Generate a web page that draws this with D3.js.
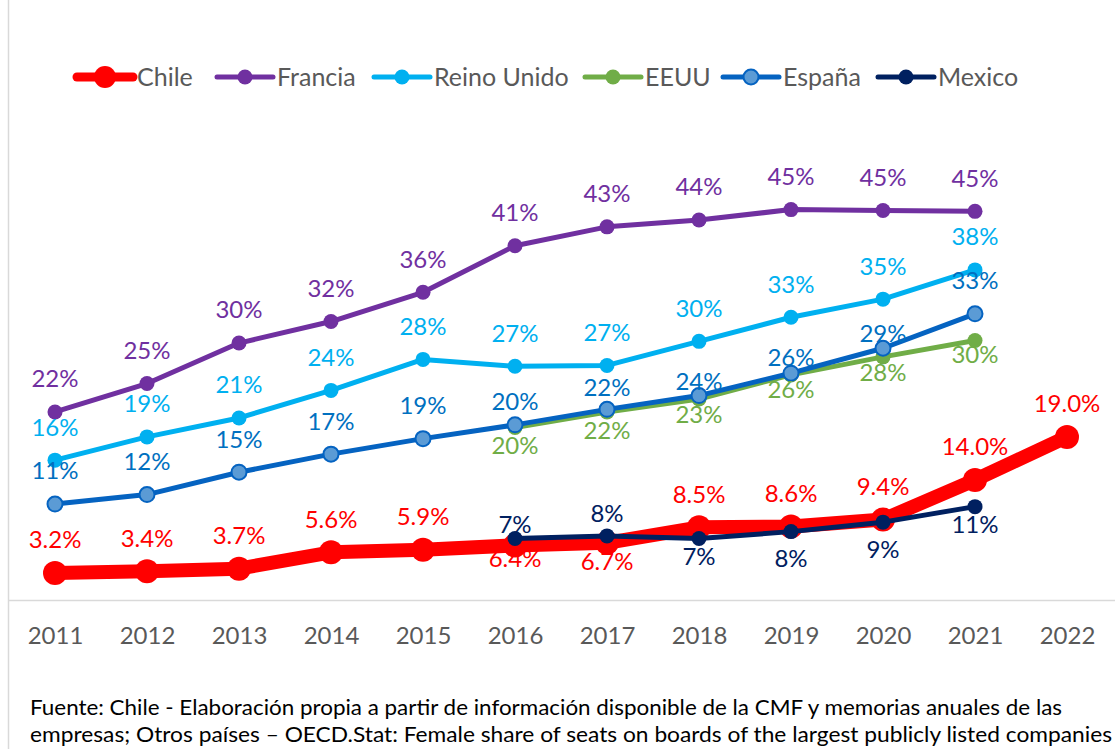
<!DOCTYPE html>
<html>
<head>
<meta charset="utf-8">
<script src="https://cdn.jsdelivr.net/npm/d3@7"></script>
<style>
  html, body { margin: 0; padding: 0; background: #fff; }
  svg { display: block; font-family: Lato, "Open Sans", sans-serif; }
</style>
</head>
<body>
<div id="chart"></div>
<script>
// years on the x axis
const years = ["2011", "2012", "2013", "2014", "2015", "2016", "2017", "2018", "2019", "2020", "2021", "2022"];

// % of board seats held by women (null = no data)
const chile      = [3.2, 3.4, 3.7, 5.6, 5.9, 6.4, 6.7, 8.5, 8.6, 9.4, 14.0, 19.0];
const francia    = [21.9, 25.2, 29.9, 32.4, 35.8, 41.2, 43.4, 44.2, 45.4, 45.3, 45.2, null];
const reinoUnido = [16.3, 19.0, 21.2, 24.4, 28.0, 27.2, 27.3, 30.1, 32.9, 35.0, 38.4, null];
const eeuu       = [null, null, null, null, null, 20.1, 21.9, 23.4, 26.2, 28.3, 30.2, null];
const espana     = [11.2, 12.3, 14.9, 17.0, 18.8, 20.4, 22.2, 23.8, 26.4, 29.3, 33.3, null];
const mexico     = [null, null, null, null, null, 7.2, 7.5, 7.2, 8.0, 9.1, 10.9, null];

const sourceLines = [
  "Fuente: Chile - Elaboración propia a partir de información disponible de la CMF y memorias anuales de las",
  "empresas; Otros países – OECD.Stat: Female share of seats on boards of the largest publicly listed companies"
];

// label placement: default above the point, a few moved by hand like in the original
const ABOVE = -33, BELOW = 18;

// series in drawing order (Excel order)
const series = [
  { name: "Chile", values: chile, color: "#FF0000", fill: "#FF0000", width: 14, r: 12, fmt: d3.format(".1f"),
    dy: { "2016": 13, "2017": 19 } },
  { name: "Francia", values: francia, color: "#7030A0", fill: "#7030A0", width: 5, r: 7.5, fmt: d3.format(".0f"), dy: {} },
  { name: "Reino Unido", values: reinoUnido, color: "#00B0F0", fill: "#00B0F0", width: 5, r: 7.5, fmt: d3.format(".0f"), dy: {} },
  { name: "EEUU", values: eeuu, color: "#70AD47", fill: "#70AD47", width: 5, r: 7.5, fmt: d3.format(".0f"),
    dy: { "2016": 18, "2017": 19, "2018": 16, "2019": 15, "2020": 16, "2021": 14 } },
  { name: "España", values: espana, color: "#0563C1", fill: "#5B9BD5", width: 5, r: 7.5, fmt: d3.format(".0f"), labelColor: "#0070C0",
    dy: { "2016": -23, "2017": -22, "2018": -14, "2019": -16, "2020": -15 } },
  { name: "Mexico", values: mexico, color: "#002060", fill: "#002060", width: 5, r: 7.5, fmt: d3.format(".0f"),
    dy: { "2016": -14, "2017": -22, "2018": BELOW, "2019": 27, "2020": 27, "2021": BELOW } }
];

const W = 1115, H = 749;
const svg = d3.select("#chart").append("svg")
  .attr("width", W).attr("height", H);

const x = d3.scalePoint().domain(years).range([55, 1067]);
const y = d3.scaleLinear().domain([0, 50]).range([600.5, 170]);

// chart frame: left border and baseline
svg.append("line")
  .attr("x1", 8.5).attr("x2", 8.5).attr("y1", 0).attr("y2", H)
  .attr("stroke", "#d9d9d9").attr("stroke-width", 1.5);

svg.append("line")
  .attr("x1", 8).attr("x2", W).attr("y1", y(0)).attr("y2", y(0))
  .attr("stroke", "#d9d9d9").attr("stroke-width", 1.5);

// x axis labels
const xAxis = svg.append("g")
  .attr("transform", `translate(0,${y(0)})`)
  .call(d3.axisBottom(x).tickSize(0).tickPadding(26));
xAxis.select(".domain").remove();
xAxis.selectAll("text")
  .attr("fill", "#595959")
  .style("font-size", "24px")
  .style("font-family", "Lato, sans-serif");

const line = d3.line()
  .defined(d => d.v != null)
  .x(d => x(d.year))
  .y(d => y(d.v));

series.forEach(s => {
  s.points = years.map((yr, i) => ({ year: yr, v: s.values[i] }));
});

// lines and markers
series.forEach(s => {
  const g = svg.append("g");
  g.append("path")
    .datum(s.points)
    .attr("d", line)
    .attr("fill", "none")
    .attr("stroke", s.color)
    .attr("stroke-width", s.width)
    .attr("stroke-linejoin", "round")
    .attr("stroke-linecap", "round");

  g.selectAll("circle")
    .data(s.points.filter(d => d.v != null))
    .join("circle")
    .attr("cx", d => x(d.year))
    .attr("cy", d => y(d.v))
    .attr("r", s.r)
    .attr("fill", s.fill)
    .attr("stroke", s.color)
    .attr("stroke-width", s.fill === s.color ? 0 : 2);
});

// data labels
series.forEach(s => {
  svg.append("g").selectAll("text")
    .data(s.points.filter(d => d.v != null))
    .join("text")
    .attr("x", d => x(d.year))
    .attr("y", d => y(d.v) + (s.dy[d.year] != null ? s.dy[d.year] : ABOVE))
    .attr("dy", "0.35em")
    .attr("text-anchor", "middle")
    .attr("fill", s.labelColor || s.color)
    .style("font-size", "24px")
    .text(d => s.fmt(d.v) + "%");
});

// legend
const legendX = [77, 217, 374, 585, 723, 878];
const legend = svg.append("g").selectAll("g")
  .data(series)
  .join("g")
  .attr("transform", (d, i) => `translate(${legendX[i]},77)`);

legend.append("line")
  .attr("x1", 0).attr("x2", 56)
  .attr("stroke", d => d.color)
  .attr("stroke-width", d => d.width === 14 ? 9 : 5)
  .attr("stroke-linecap", "round");

legend.append("circle")
  .attr("cx", 28)
  .attr("r", d => d.width === 14 ? 11 : 7.5)
  .attr("fill", d => d.fill)
  .attr("stroke", d => d.color)
  .attr("stroke-width", d => d.fill === d.color ? 0 : 2);

legend.append("text")
  .attr("x", 60)
  .attr("dy", "0.35em")
  .attr("fill", "#595959")
  .style("font-size", "25px")
  .text(d => d.name);

// source note
const srcWidths = [1032, 1082];
svg.append("g").selectAll("text")
  .data(sourceLines)
  .join("text")
  .attr("x", 30)
  .attr("y", (d, i) => 715 + i * 27)
  .attr("textLength", (d, i) => srcWidths[i])
  .attr("lengthAdjust", "spacingAndGlyphs")
  .attr("fill", "#000")
  .style("font-size", "21px")
  .text(d => d);
</script>
</body>
</html>
